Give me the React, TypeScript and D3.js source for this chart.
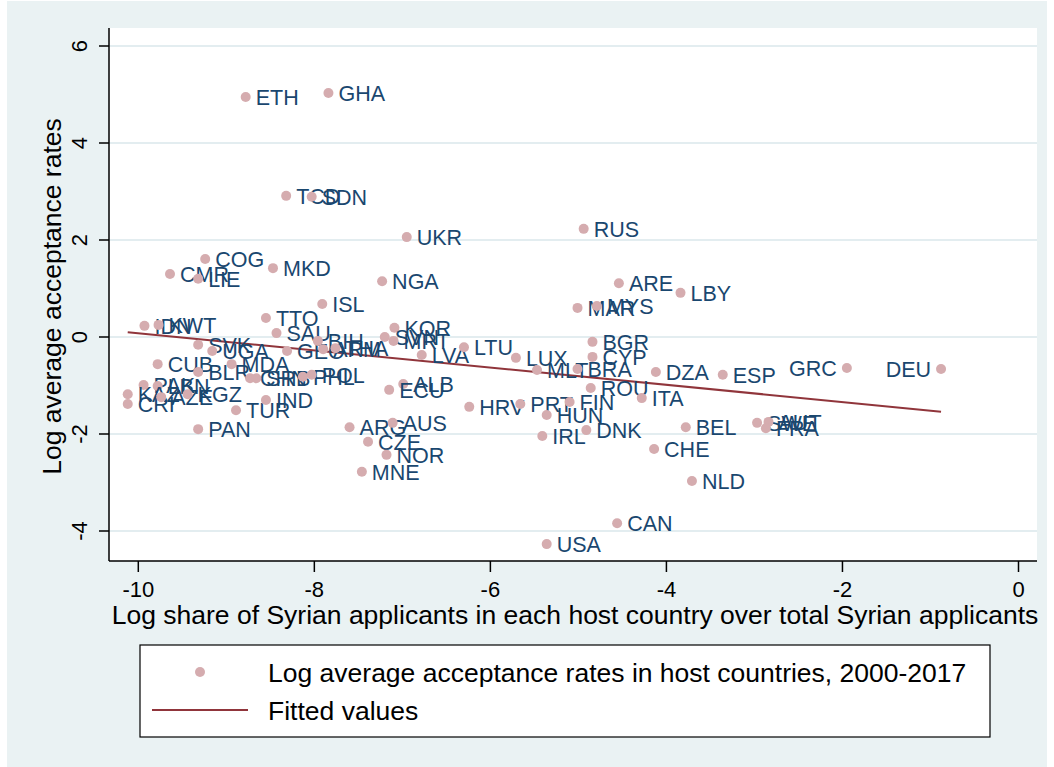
import React from "react";
import * as d3 from "d3";

// Host country ISO codes, log share of Syrian applicants (x) and log average acceptance rate (y)
const countries = [
  "ETH","GHA","TCD","SDN","UKR","RUS","COG","CMR","LIE","MKD","NGA","ARE","LBY","ISL","MAR","MYS",
  "TTO","SAU","IDN","KWT","SVK","UGA","CUB","BLR","MDA","PAK","LBN","KAZ","CRI","AZE","KGZ","TUR",
  "IND","PAN","CHN","SRB","PHL","POL","GEO","BIH","ARM","THA","KOR","SVN","MRT","LVA","LTU","ALB",
  "ECU","HRV","ARG","AUS","CZE","NOR","MNE","LUX","MLT","BRA","BGR","CYP","DZA","ROU","ITA","PRT",
  "FIN","HUN","IRL","DNK","BEL","CHE","NLD","CAN","USA","ESP","GRC","DEU","SWE","AUT","FRA",
];
const logShare = [
  -8.78,-7.84,-8.32,-8.03,-6.95,-4.94,-9.24,-9.64,-9.32,-8.47,-7.23,-4.54,-3.84,-7.91,-5.01,-4.79,
  -8.55,-8.43,-9.93,-9.77,-9.32,-9.16,-9.78,-9.32,-8.94,-9.94,-9.78,-10.12,-10.12,-9.74,-9.44,-8.89,
  -8.55,-9.32,-8.73,-8.66,-8.13,-8.03,-8.31,-7.96,-7.90,-7.76,-7.09,-7.20,-7.10,-6.78,-6.30,-6.99,
  -7.15,-6.24,-7.60,-7.11,-7.39,-7.18,-7.46,-5.71,-5.47,-5.01,-4.84,-4.84,-4.12,-4.86,-4.28,-5.66,
  -5.10,-5.36,-5.41,-4.91,-3.78,-4.14,-3.71,-4.56,-5.36,-3.36,-1.95,-0.88,-2.97,-2.84,-2.87,
];
const logAccept = [
  4.95,5.03,2.91,2.89,2.06,2.23,1.61,1.30,1.20,1.42,1.15,1.11,0.91,0.68,0.60,0.64,
  0.39,0.08,0.23,0.25,-0.16,-0.29,-0.56,-0.72,-0.56,-0.99,-1.01,-1.18,-1.38,-1.24,-1.18,-1.51,
  -1.30,-1.90,-0.85,-0.85,-0.82,-0.78,-0.29,-0.08,-0.25,-0.23,0.19,0.00,-0.08,-0.37,-0.21,-0.97,
  -1.09,-1.44,-1.86,-1.77,-2.16,-2.43,-2.78,-0.43,-0.68,-0.66,-0.10,-0.41,-0.72,-1.05,-1.26,-1.38,
  -1.34,-1.61,-2.04,-1.92,-1.86,-2.31,-2.97,-3.84,-4.27,-0.78,-0.64,-0.66,-1.77,-1.75,-1.88,
];
// Labels drawn on the left side of their marker
const leftLabelled = ["GRC", "DEU"];

// Linear fit endpoints
const fitX = [-10.12, -0.88];
const fitY = [0.10, -1.54];

const xTicks = [-10, -8, -6, -4, -2, 0];
const yTicks = [-4, -2, 0, 2, 4, 6];

const xTitle = "Log share of Syrian applicants in each host country over total Syrian applicants";
const yTitle = "Log average acceptance rates";
const legendScatter = "Log average acceptance rates in host countries, 2000-2017";
const legendFit = "Fitted values";

const W = 1054;
const H = 767;
const plot = { left: 109, right: 1037, top: 28, bottom: 561 };

const BG = "#EAF2F3";
const GRID = "#E3EDF0";
const MARKER = "#D5ACAF";
const LABEL = "#1A476F";
const FIT = "#90353B";
const FONT = "Arial, 'Liberation Sans', Helvetica, sans-serif";

export default function App() {
  const x = d3.scaleLinear().domain([-10, 0]).range([138.3, 1018.5]);
  const y = d3.scaleLinear().domain([0, 2]).range([337, 240]);

  const pts = countries.map((c, i) => ({ c, x: logShare[i], y: logAccept[i] }));
  const fitLine = d3
    .line<number>()
    .x((_, i) => x(fitX[i]))
    .y((v) => y(v))(fitY) as string;

  const legend = { x: 140, y: 645, w: 850, h: 92 };

  return (
    <svg
      width={W}
      height={H}
      style={{ position: "absolute", left: 0, top: 0, fontFamily: FONT }}
    >
      <rect x={0} y={0} width={W} height={H} fill="#fff" />
      <rect x={7} y={1} width={W - 14} height={H - 1} fill={BG} />
      <rect
        x={plot.left}
        y={plot.top}
        width={plot.right - plot.left}
        height={plot.bottom - plot.top}
        fill="#fff"
      />

      {/* horizontal gridlines */}
      {yTicks.map((t) => (
        <line
          key={"g" + t}
          x1={plot.left}
          x2={plot.right}
          y1={y(t)}
          y2={y(t)}
          stroke={GRID}
          strokeWidth={2}
        />
      ))}

      {/* fitted line */}
      <path d={fitLine} fill="none" stroke={FIT} strokeWidth={2} />

      {/* markers and their labels */}
      {pts.map((p) => (
        <g key={p.c}>
          <circle cx={x(p.x)} cy={y(p.y)} r={5} fill={MARKER} />
          <text
            x={leftLabelled.includes(p.c) ? x(p.x) - 10 : x(p.x) + 10}
            y={y(p.y) + 1}
            dominantBaseline="central"
            textAnchor={leftLabelled.includes(p.c) ? "end" : "start"}
            fontSize={21.5}
            fill={LABEL}
          >
            {p.c}
          </text>
        </g>
      ))}

      {/* axes */}
      <line x1={plot.left} x2={plot.left} y1={plot.top} y2={plot.bottom} stroke="#000" strokeWidth={1.5} />
      <line x1={plot.left} x2={plot.right} y1={plot.bottom} y2={plot.bottom} stroke="#000" strokeWidth={1.5} />

      {yTicks.map((t) => (
        <g key={"y" + t}>
          <line x1={plot.left - 10} x2={plot.left} y1={y(t)} y2={y(t)} stroke="#000" strokeWidth={1.5} />
          <text
            transform={`translate(${plot.left - 30},${y(t)}) rotate(-90)`}
            textAnchor="middle"
            dominantBaseline="central"
            fontSize={22}
            fill="#000"
          >
            {t}
          </text>
        </g>
      ))}
      {xTicks.map((t) => (
        <g key={"x" + t}>
          <line x1={x(t)} x2={x(t)} y1={plot.bottom} y2={plot.bottom + 11} stroke="#000" strokeWidth={1.5} />
          <text x={x(t)} y={plot.bottom + 28} textAnchor="middle" dominantBaseline="central" fontSize={22} fill="#000">
            {t}
          </text>
        </g>
      ))}

      <text x={(plot.left + plot.right) / 2 + 2} y={615} textAnchor="middle" dominantBaseline="central" fontSize={26.5} fill="#000">
        {xTitle}
      </text>
      <text
        transform={`translate(52,${(plot.top + plot.bottom) / 2 + 2}) rotate(-90)`}
        textAnchor="middle"
        dominantBaseline="central"
        fontSize={26.5}
        fill="#000"
      >
        {yTitle}
      </text>

      {/* legend */}
      <rect x={legend.x} y={legend.y} width={legend.w} height={legend.h} fill="#fff" stroke="#000" strokeWidth={1.2} />
      <circle cx={200} cy={672} r={5} fill={MARKER} />
      <text x={268} y={673} dominantBaseline="central" fontSize={26.5} fill="#000">
        {legendScatter}
      </text>
      <line x1={152} x2={248} y1={710} y2={710} stroke={FIT} strokeWidth={2} />
      <text x={268} y={711} dominantBaseline="central" fontSize={26.5} fill="#000">
        {legendFit}
      </text>
    </svg>
  );
}
